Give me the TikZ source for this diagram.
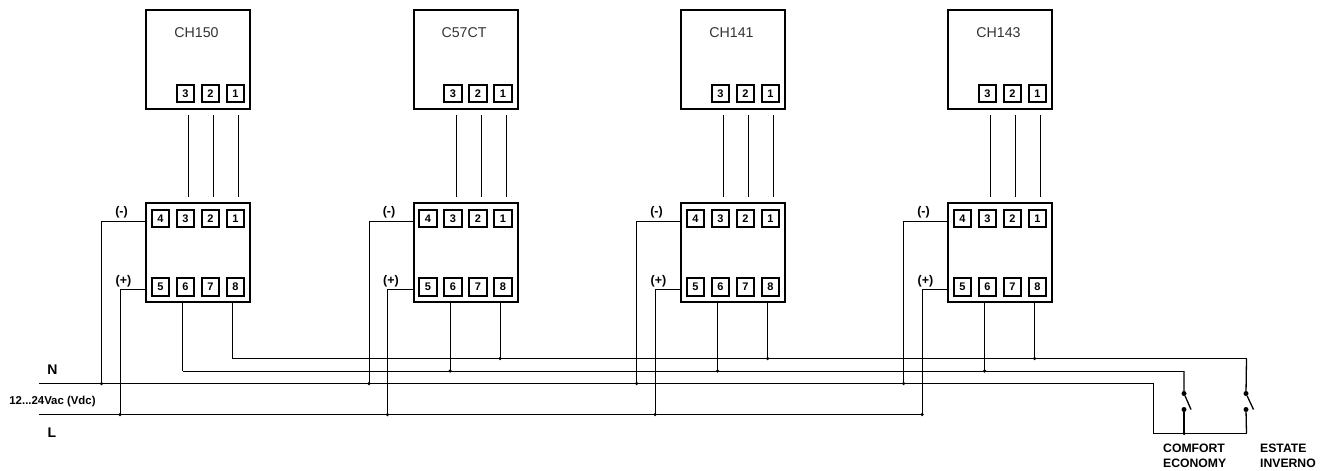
\documentclass[tikz,border=0pt]{standalone}
\usepackage{fontspec}
\setmainfont{Liberation Sans}
\tikzset{
  x=1pt,y=-1pt,
  wire/.style={line width=0.9pt,black},
  unitbox/.style={draw,line width=2pt,minimum width=104pt,minimum height=98.5pt,inner sep=0pt,anchor=north west},
  term/.style={draw,line width=1.7pt,minimum size=17.5pt,inner sep=0pt,font=\bfseries\fontsize{11}{11}\selectfont},
  devname/.style={inner sep=0pt,text=black!80,font=\fontsize{14.2}{14}\selectfont},
  lab/.style={inner sep=0pt,font=\bfseries\fontsize{12}{12}\selectfont},
  sign/.style={inner sep=0pt,font=\bfseries\fontsize{12.5}{12}\selectfont},
  jdot/.style={circle,fill=black,minimum size=3.5pt,inner sep=0pt},
  swdot/.style={circle,fill=black,minimum size=5pt,inner sep=0pt},
}
\begin{document}
\begin{tikzpicture}
\useasboundingbox (0,0) rectangle (1323,471);
% bus coordinates
\coordinate (nL) at (39,383.5);
\coordinate (lL) at (39,414.5);
\coordinate (aR) at (1153.5,383.5);
\coordinate (aB) at (1153.5,433.5);
\coordinate (cR) at (1184,371);
\coordinate (dR) at (1246.5,358.5);
\coordinate (eB) at (1246.5,433.5);
\coordinate (fB) at (1184,433.5);
\foreach \i/\xx/\nm in {1/145/CH150,2/412.5/C57CT,3/680/CH141,4/947/CH143}{
  \node[unitbox] (top\i) at (\xx,9) {};
  \node[unitbox] (bot\i) at (\xx,202) {};
  \node[devname] (name\i) at (\xx+51.5,32.5) {\nm};
  \node[term] (a\i c) at (\xx+40.5,93.5) {3};
  \node[term] (a\i b) at (\xx+65.5,93.5) {2};
  \node[term] (a\i a) at (\xx+90.5,93.5) {1};
  \node[term] (t\i d) at (\xx+15.5,218.5) {4};
  \node[term] (t\i c) at (\xx+40.5,218.5) {3};
  \node[term] (t\i b) at (\xx+65.5,218.5) {2};
  \node[term] (t\i a) at (\xx+90.5,218.5) {1};
  \node[term] (t\i e) at (\xx+15.5,287) {5};
  \node[term] (t\i f) at (\xx+40.5,287) {6};
  \node[term] (t\i g) at (\xx+65.5,287) {7};
  \node[term] (t\i h) at (\xx+90.5,287) {8};
  % free wires between the units
  \foreach \w/\dx in {c/43.5,b/68.5,a/93.5}{
    \coordinate (u\i\w) at (\xx+\dx,115);
    \coordinate (v\i\w) at (\xx+\dx,197);
    \draw[wire] (u\i\w) -- (v\i\w);
  }
  % side feeds
  \coordinate (mm\i) at (\xx,221);
  \coordinate (mb\i) at (\xx-43.5,383.5);
  \coordinate (pp\i) at (\xx,289.5);
  \coordinate (pb\i) at (\xx-25,414.5);
  \draw[wire] (mm\i) -| (mb\i);
  \draw[wire] (pp\i) -| (pb\i);
  \node[jdot] (mj\i) at (mb\i) {};
  \node[jdot] (pj\i) at (pb\i) {};
  \node[sign] (ms\i) at (\xx-23.5,212) {(-)};
  \node[sign] (ps\i) at (\xx-21.5,281) {(+)};
  % drops from 6 and 8
  \coordinate (s6\i) at (\xx+37.5,302);
  \coordinate (b6\i) at (\xx+37.5,371);
  \coordinate (s8\i) at (\xx+87.5,302);
  \coordinate (b8\i) at (\xx+87.5,358.5);
  \draw[wire] (s6\i) -- (b6\i);
  \draw[wire] (s8\i) -- (b8\i);
}
\foreach \i in {2,3,4}{
  \node[jdot] (j6\i) at (b6\i) {};
  \node[jdot] (j8\i) at (b8\i) {};
}
% buses
\draw[wire] (nL) -- (aR) -- (aB) -- (eB);
\draw[wire] (lL) -- (pb4);
\draw[wire] (b61) -- (cR);
\draw[wire] (b81) -- (dR);
% switches
\coordinate (sw1t) at (1184,393.5);
\coordinate (sw1b) at (1184,409.5);
\coordinate (sw2t) at (1246,393.5);
\coordinate (sw2b) at (1246,409.5);
\node[swdot] (d1t) at (sw1t) {};
\node[swdot] (d1b) at (sw1b) {};
\node[swdot] (d2t) at (sw2t) {};
\node[swdot] (d2b) at (sw2b) {};
\coordinate (bl1) at (1191,409.5);
\coordinate (bl2) at (1253.5,409.5);
\draw[wire,line width=1.3pt] (cR) -- (d1t) -- (bl1);
\draw[wire,line width=1.3pt] (d1b) -- (fB);
\draw[wire,line width=1.3pt] (dR) -- (d2t) -- (bl2);
\draw[wire,line width=1.3pt] (d2b) -- (eB);
\node[jdot] (jf) at (fB) {};
% labels
\node[lab,font=\bfseries\fontsize{14}{14}\selectfont] (N) at (52.5,370) {N};
\node[lab,font=\bfseries\fontsize{14}{14}\selectfont] (L) at (52,433) {L};
\node[lab,font=\bfseries\fontsize{11.4}{12}\selectfont] (V) at (52.5,402) {12...24Vac (Vdc)};
\node[lab,anchor=west,align=left,font=\bfseries\fontsize{12.2}{15}\selectfont] (CE) at (1163,455.5) {COMFORT\\ECONOMY};
\node[lab,anchor=west,align=left,font=\bfseries\fontsize{12.2}{15}\selectfont] (EI) at (1260,455.5) {ESTATE\\INVERNO};
\end{tikzpicture}
\end{document}
